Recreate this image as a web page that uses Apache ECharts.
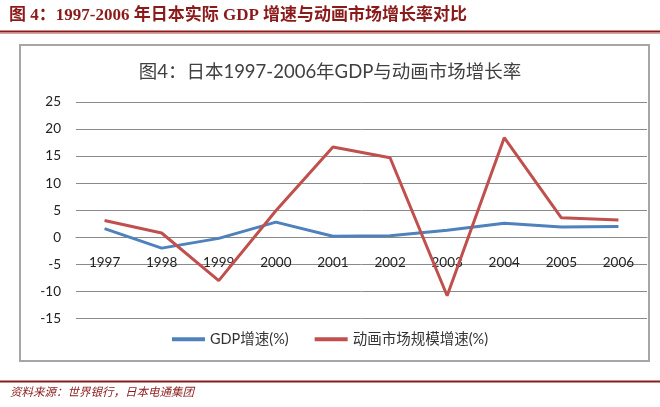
<!DOCTYPE html>
<html>
<head>
<meta charset="utf-8">
<script src="https://cdn.jsdelivr.net/npm/echarts@6/dist/echarts.min.js"></script>
<style>html,body{margin:0;padding:0;background:#fff;}#c{width:660px;height:407px;}</style>
</head>
<body>
<div id="c"></div>
<script>
const years = ['1997','1998','1999','2000','2001','2002','2003','2004','2005','2006'];
const gdpGrowth = [1.6, -2.0, -0.2, 2.8, 0.2, 0.3, 1.3, 2.6, 1.9, 2.0];
const animeGrowth = [3.1, 0.8, -8.0, 4.9, 16.7, 14.7, -10.8, 18.4, 3.6, 3.2];
const seriesNames = ['GDP增速(%)', '动画市场规模增速(%)'];
const yTicks = {min: -15, max: 25, interval: 5};

const headerText = '图 4：1997-2006 年日本实际 GDP 增速与动画市场增长率对比';
const chartTitle = '图4：日本1997-2006年GDP与动画市场增长率';
const sourceText = '资料来源：世界银行，日本电通集团';

const dark = '#8B1A1A';
const txtFont = "Lato, 'Noto Sans CJK SC', sans-serif";

const gridTop = 102, gridBottom = 88.5, H = 407;
const plotH = H - gridTop - gridBottom;
// distance from bottom of plot to the zero line (axis placed on zero like the original)
const zeroOffset = plotH * (0 - yTicks.min) / (yTicks.max - yTicks.min);

const chart = echarts.init(document.getElementById('c'), null, {renderer: 'canvas'});
chart.setOption({
  animation: false,
  backgroundColor: '#fff',
  title: {
    text: chartTitle,
    left: 'center',
    top: 58,
    textStyle: {fontFamily: txtFont, fontSize: 18.5, fontWeight: 'normal', color: '#404040'}
  },
  legend: {
    top: 327,
    left: 'center',
    itemGap: 26,
    itemWidth: 33,
    itemHeight: 4,
    icon: 'rect',
    textStyle: {fontFamily: txtFont, fontSize: 14.5, color: '#333'},
    data: seriesNames
  },
  grid: {left: 76, right: 13, top: gridTop, bottom: gridBottom},
  xAxis: {
    type: 'category',
    data: years,
    boundaryGap: true,
    offset: -zeroOffset,
    axisLine: {onZero: false, lineStyle: {color: '#8a8a8a', width: 1}},
    axisTick: {show: false},
    axisLabel: {margin: 19, fontFamily: txtFont, fontSize: 13.5, color: '#222'}
  },
  yAxis: {
    type: 'value',
    min: yTicks.min,
    max: yTicks.max,
    interval: yTicks.interval,
    axisLine: {show: false},
    axisTick: {show: false},
    axisLabel: {margin: 15, fontFamily: txtFont, fontSize: 13.5, color: '#222'},
    splitLine: {lineStyle: {color: '#8a8a8a', width: 1}}
  },
  series: [
    {name: seriesNames[0], type: 'line', data: gdpGrowth, symbol: 'none',
     lineStyle: {color: '#4F81BD', width: 3}, itemStyle: {color: '#4F81BD'}},
    {name: seriesNames[1], type: 'line', data: animeGrowth, symbol: 'none',
     lineStyle: {color: '#C0504D', width: 3}, itemStyle: {color: '#C0504D'}}
  ],
  graphic: [
    {type: 'text', left: 9, top: 7,
     style: {text: headerText, fill: dark, font: "bold 17px 'Liberation Serif', 'Noto Sans CJK SC', serif"}},
    {type: 'rect', shape: {x: 0, y: 30.5, width: 660, height: 2}, style: {fill: dark}},
    {type: 'rect', shape: {x: 0, y: 33, width: 660, height: 1}, style: {fill: '#d9a0a0'}},
    {type: 'rect', shape: {x: 20, y: 45, width: 629, height: 316},
     style: {fill: 'none', stroke: '#a6a6a6', lineWidth: 2}},
    {type: 'rect', shape: {x: 0, y: 380.5, width: 660, height: 2}, style: {fill: dark}},
    {type: 'text', left: 10, top: 387,
     style: {text: sourceText, fill: dark, font: "italic 11.5px 'Liberation Serif', 'Noto Sans CJK SC', serif"}}
  ]
});
</script>
</body>
</html>
